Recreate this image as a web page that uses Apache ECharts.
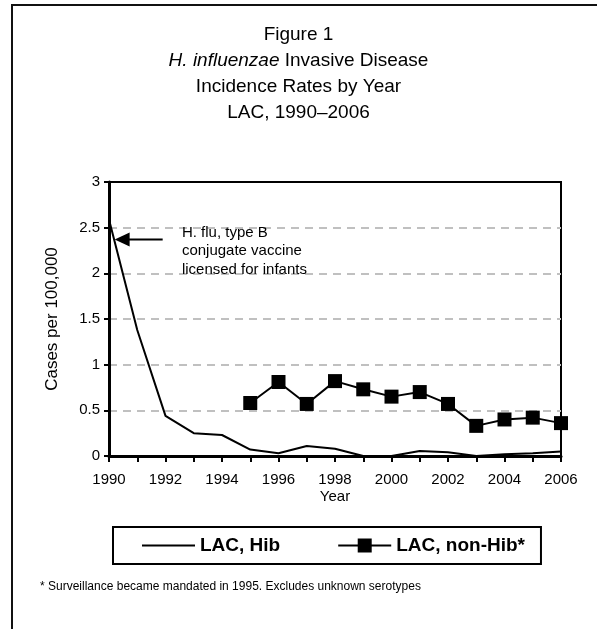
<!DOCTYPE html>
<html>
<head>
<meta charset="utf-8">
<script src="https://cdn.jsdelivr.net/npm/echarts@6/dist/echarts.min.js"></script>
<style>
html, body { margin: 0; padding: 0; background: #fff; }
#main { width: 597px; height: 629px; }
</style>
</head>
<body>
<div id="main"></div>
<script>
// data
var years = ['1990', '1991', '1992', '1993', '1994', '1995', '1996', '1997', '1998',
             '1999', '2000', '2001', '2002', '2003', '2004', '2005', '2006'];
var hib = [2.59, 1.38, 0.44, 0.25, 0.23, 0.07, 0.03, 0.11, 0.08, 0, 0, 0.055, 0.04, 0, 0.02, 0.03, 0.05];
var nonHib = ['-', '-', '-', '-', '-', 0.58, 0.81, 0.57, 0.82, 0.73, 0.65, 0.70, 0.57, 0.33, 0.40, 0.42, 0.36];
var seriesNames = ['LAC, Hib', 'LAC, non-Hib*'];
var noteLines = ['H. flu, type B', 'conjugate vaccine', 'licensed for infants'];
var footnote = '* Surveillance became mandated in 1995. Excludes unknown serotypes';

var font = "'Liberation Sans', Arial, sans-serif";
var myChart = echarts.init(document.getElementById('main'));

var option = {
    backgroundColor: '#fff',
    textStyle: { fontFamily: font, color: '#000' },
    title: {
        left: 'center',
        top: 17,
        text: '{n|Figure 1}\n{i|H. influenzae}{n| Invasive Disease}\n{n|Incidence Rates by Year}\n{n|LAC, 1990\u20132006}',
        textStyle: {
            fontWeight: 'normal',
            rich: {
                n: { fontSize: 19, fontFamily: font, fontWeight: 'normal', color: '#000', lineHeight: 26 },
                i: { fontSize: 19, fontFamily: font, fontWeight: 'normal', color: '#000', fontStyle: 'italic', lineHeight: 26 }
            }
        }
    },
    grid: {
        left: 109, right: 36, top: 182, bottom: 173,
        show: true, borderColor: '#000', borderWidth: 2
    },
    legend: {
        data: [
            { name: seriesNames[0], itemStyle: { opacity: 0 } },
            { name: seriesNames[1] }
        ],
        left: 113,
        top: 527,
        orient: 'horizontal',
        borderColor: '#000',
        borderWidth: 2,
        padding: [9, 16, 9, 28],
        itemGap: 57,
        itemWidth: 53,
        itemHeight: 17.5,
        selectedMode: false,
        textStyle: { fontSize: 19, fontWeight: 'bold', fontFamily: font, color: '#000' }
    },
    xAxis: {
        type: 'category',
        data: years,
        boundaryGap: false,
        name: 'Year',
        nameLocation: 'middle',
        nameGap: 33,
        nameTextStyle: { fontSize: 15, fontFamily: font, color: '#000' },
        axisLine: { lineStyle: { color: '#000', width: 3 } },
        axisTick: { show: true, interval: 0, length: 6, lineStyle: { color: '#000', width: 2 } },
        axisLabel: { interval: 1, margin: 16, fontSize: 15, fontFamily: font, color: '#000' },
        splitLine: { show: false }
    },
    yAxis: {
        type: 'value',
        min: 0,
        max: 3,
        interval: 0.5,
        name: 'Cases per 100,000',
        nameLocation: 'middle',
        nameGap: 48,
        nameTextStyle: { fontSize: 17, fontFamily: font, color: '#000' },
        axisLine: { show: true, lineStyle: { color: '#000', width: 3 } },
        axisTick: { show: true, length: 5, lineStyle: { color: '#000', width: 2 } },
        axisLabel: { margin: 9, fontSize: 15, fontFamily: font, color: '#000' },
        splitLine: {
            show: true, showMinLine: false, showMaxLine: false,
            lineStyle: { color: '#c0c0c0', width: 2, type: [8, 6] }
        }
    },
    series: [
        {
            name: seriesNames[0],
            type: 'line',
            data: hib,
            symbol: 'none',
            lineStyle: { color: '#000', width: 2 },
            itemStyle: { color: '#000' },
            z: 3
        },
        {
            name: seriesNames[1],
            type: 'line',
            data: nonHib,
            symbol: 'rect',
            symbolSize: 14,
            lineStyle: { color: '#000', width: 2 },
            itemStyle: { color: '#000' },
            z: 4
        }
    ]
};
myChart.setOption(option);

// annotation arrow + note, placed from the axes
function catX(idx) {
    var a = myChart.convertToPixel({ xAxisIndex: 0 }, 0);
    var b = myChart.convertToPixel({ xAxisIndex: 0 }, 1);
    return a + (b - a) * idx;
}
var arrowY = myChart.convertToPixel({ yAxisIndex: 0 }, 2.37);
var tipX = catX(0.2);
var tailX = catX(1.9);
var textX = catX(2.58);

myChart.setOption({
    graphic: [
        {
            type: 'polyline',
            shape: { points: [[12, 640], [12, 5], [610, 5]] },
            style: { stroke: '#111', lineWidth: 2, fill: null }
        },
        {
            type: 'line',
            shape: { x1: tipX + 12, y1: arrowY, x2: tailX, y2: arrowY },
            style: { stroke: '#000', lineWidth: 2 },
            z: 10
        },
        {
            type: 'polygon',
            shape: { points: [[tipX, arrowY], [tipX + 15, arrowY - 7], [tipX + 15, arrowY + 7]] },
            style: { fill: '#000' },
            z: 10
        },
        {
            type: 'text',
            left: textX,
            top: arrowY - 16,
            style: {
                text: noteLines.join('\n'),
                font: '15px ' + font,
                lineHeight: 18.5,
                fill: '#000'
            },
            z: 10
        },
        {
            type: 'text',
            left: 40,
            top: 581,
            style: { text: footnote, font: '12px ' + font, fill: '#000' }
        }
    ]
});
</script>
</body>
</html>
